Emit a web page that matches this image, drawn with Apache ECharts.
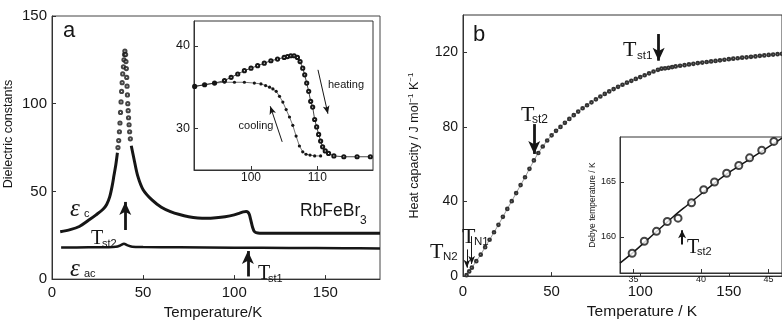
<!DOCTYPE html>
<html><head><meta charset="utf-8">
<script src="https://cdn.jsdelivr.net/npm/echarts@6/dist/echarts.min.js"></script>
<style>html,body{margin:0;padding:0;background:#fff}#c{width:782px;height:325px}</style>
</head><body><div id="c"></div>
<script>
// ---------- Panel a: dielectric constants ----------
const epsCLowT = [4.5, 10, 15, 20, 24, 28, 30, 31.7, 33, 34, 35, 35.9];
const epsCLowV = [27.0, 28.2, 30.0, 33.5, 36.5, 39.8, 42.5, 47, 53, 59, 65, 72];
const epsCPeakT = [36.2,36.6,37.0,37.3,37.6,37.9,38.2,38.5,38.8,39.2,39.5,39.8,40.0,40.4,40.6,40.8,41.0,41.2,41.4,41.6,41.8,42.0,42.3,42.6,43.0];
const epsCPeakV = [75,79,84,89,95,101,107,112,117,121,125,128,130,128,124,120,115,110,105,100,96,92,88,84,80];
const epsCHighT = [43.5, 45, 47, 50, 55, 60, 65, 70, 75, 80, 85, 90, 95, 100, 103, 105, 106.5, 107.5, 108.3, 109, 109.7, 110.4, 111, 112, 114, 120, 140, 160, 180];
const epsCHighV = [76, 68.5, 59, 51, 45, 41, 38.5, 36.8, 35.6, 34.9, 34.7, 35.0, 35.6, 36.6, 37.6, 38.3, 38.6, 38.2, 36.8, 34.0, 31.0, 28.5, 27.2, 26.5, 26.2, 26.2, 26.2, 26.2, 26.1];
const epsAcT = [5, 20, 30, 35, 37.5, 39.5, 41.5, 44, 50, 70, 100, 130, 160, 180];
const epsAcV = [18.0, 18.1, 18.2, 18.4, 19.2, 20.2, 19.2, 18.5, 18.3, 18.1, 17.9, 17.8, 17.6, 17.5];
// inset a: heating / cooling
const heatingT = [91.5, 93, 94.5, 96, 97, 98, 99, 100, 101, 102, 103, 104, 105, 105.5, 106, 106.5, 107, 107.4, 107.8, 108.1, 108.4, 108.7, 109, 109.3, 109.6, 109.9, 110.2, 110.5, 110.8, 111.2, 111.7, 112.5, 114, 116, 118];
const heatingV = [35.1, 35.3, 35.5, 35.8, 36.2, 36.6, 37.0, 37.3, 37.6, 37.9, 38.2, 38.4, 38.6, 38.7, 38.8, 38.8, 38.6, 38.1, 37.3, 36.5, 35.5, 34.5, 33.3, 32.6, 31.1, 30.2, 29.3, 28.5, 27.8, 27.3, 27.0, 26.7, 26.6, 26.6, 26.6];
const coolingT = [91.5, 93, 94.5, 96, 97.5, 99, 100.5, 101.5, 102.2, 102.8, 103.3, 103.8, 104.3, 104.8, 105.3, 105.8, 106.3, 106.8, 107.3, 107.8, 108.3, 108.9, 109.6, 110.5];
const coolingV = [35.1, 35.3, 35.5, 35.6, 35.6, 35.6, 35.5, 35.4, 35.2, 35.0, 34.8, 34.5, 33.9, 33.2, 32.3, 31.4, 30.4, 29.1, 27.9, 27.2, 26.9, 26.8, 26.7, 26.7];
// ---------- Panel b: heat capacity ----------
const heatT = [2, 3.5, 5, 7.5, 10, 12.5, 15, 17.5, 20, 22.5, 25, 27.5, 30, 32.5, 35, 37.5, 40, 42.5, 45, 47.5, 50, 52.5, 55, 57.5, 60, 62.5, 65, 67.5, 70, 72.5, 75, 77.5, 80, 82.5, 85, 87.5, 90, 92.5, 95, 97.5, 100, 102.5, 105, 107.5, 110, 112, 114, 116, 118, 120, 122.5, 125, 127.5, 130, 132.5, 135, 137.5, 140, 142.5, 145, 147.5, 150, 152.5, 155, 157.5, 160, 162.5, 165, 167.5, 170, 172.5, 175, 177.5, 180];
const heatC = [0.5, 2.5, 4.5, 8, 11.5, 15.5, 19.5, 23.5, 27.5, 31.8, 36, 40.2, 44.5, 48.8, 53, 57.5, 62, 66, 69.5, 72.7, 75.5, 77.9, 80, 82.2, 84.3, 86.3, 88.2, 90, 91.6, 93.2, 94.8, 96.3, 97.7, 99, 100.3, 101.5, 102.6, 103.7, 104.7, 105.7, 106.7, 107.7, 108.7, 109.7, 110.6, 111.2, 111.4, 111.7, 112.1, 112.4, 112.8, 113.1, 113.5, 113.8, 114.2, 114.5, 114.8, 115.1, 115.4, 115.7, 116, 116.3, 116.6, 116.8, 117.1, 117.3, 117.6, 117.8, 118.1, 118.3, 118.6, 118.8, 119, 119.2];
// inset b: Debye temperature
const debyeT = [34.9, 35.8, 36.7, 37.5, 38.3, 39.3, 40.2, 41.0, 41.9, 42.8, 43.6, 44.5, 45.4];
const debyeV = [158.5, 159.6, 160.5, 161.4, 161.7, 163.1, 164.3, 165.0, 165.8, 166.5, 167.2, 167.9, 168.7];
const fitT = [34, 35, 36, 37, 38, 39, 40, 41, 42, 43, 44, 45, 46];
const fitV = [157.6, 158.6, 159.7, 160.8, 161.9, 162.9, 163.9, 164.9, 165.8, 166.6, 167.4, 168.2, 169.0];
// tick labels
const ticksAx = [0, 50, 100, 150], ticksAy = [0, 50, 100, 150];
const ticksIAx = [100, 110], ticksIAy = [30, 40];
const ticksBx = [0, 50, 100, 150], ticksBy = [0, 40, 80, 120];
const ticksIBx = [35, 40, 45], ticksIBy = [160, 165];

const zip = (a, b) => a.map((v, i) => [v, b[i]]);
const INK = '#161616';
const SANS = '"Liberation Sans", Arial, sans-serif';
const SERIF = '"Liberation Serif", "Times New Roman", serif';

function ax(gi, min, max, ticks, fs, margin, extra) {
  return Object.assign({
    type: 'value', gridIndex: gi, min, max,
    axisLine: { show: true, onZero: false, lineStyle: { color: '#333', width: 1 } },
    axisTick: { show: true, inside: true, length: 4, customValues: ticks, lineStyle: { color: '#333' } },
    axisLabel: { customValues: ticks, fontSize: fs, fontFamily: SANS, color: INK, margin },
    splitLine: { show: false }
  }, extra || {});
}
function arrow(p1, p2, w, size) {
  return [
    { coord: p1, symbol: 'none', lineStyle: { width: w, color: INK, type: 'solid' } },
    { coord: p2, symbol: 'arrow', symbolSize: size }
  ];
}
function ml(items) {
  return { silent: true, animation: false, label: { show: false }, emphasis: { disabled: true },
           lineStyle: { color: INK, type: 'solid' }, symbol: ['none', 'arrow'], data: items };
}
function txt(x, y, text, font, align) {
  return { type: 'text', x, y, z: 100, silent: true,
           style: { text, font, fill: INK, textAlign: align || 'left', textVerticalAlign: 'middle' } };
}

const option = {
  animation: false,
  backgroundColor: '#fff',
  grid: [
    { left: 52, top: 16, width: 328, height: 273, show: true, borderColor: '#444', borderWidth: 1 },
    { left: 194, top: 21, width: 179, height: 149, show: true, borderColor: '#333', borderWidth: 1, backgroundColor: '#fff', z: 3 },
    { left: 463, top: 15, right: -8, height: 275, show: true, borderColor: '#333', borderWidth: 1 },
    { left: 620, top: 137, right: -1, height: 136, show: true, borderColor: '#333', borderWidth: 1, backgroundColor: '#fff', z: 3 }
  ],
  xAxis: [
    ax(0, 0, 180, ticksAx, 15, 6, { name: 'Temperature/K', nameLocation: 'middle', nameGap: 23,
       nameTextStyle: { fontSize: 15, fontFamily: SANS, color: INK, padding: [0, 6, 0, 0] } }),
    ax(1, 91.4, 118.4, ticksIAx, 12, 2, { z: 4 }),
    ax(2, 0, 180, ticksBx, 15, 8, { name: 'Temperature / K', nameLocation: 'middle', nameGap: 22,
       nameTextStyle: { fontSize: 15.5, fontFamily: SANS, color: INK, padding: [0, 0, 0, 39] } }),
    ax(3, 34, 46, ticksIBx, 9, 2, { z: 4 })
  ],
  yAxis: [
    ax(0, 0, 150, ticksAy, 15, 5, { name: 'Dielectric constants', nameLocation: 'middle', nameGap: 37,
       nameTextStyle: { fontSize: 12.5, fontFamily: SANS, color: INK, padding: [0, 0, 0, 27] } }),
    ax(1, 25, 43, ticksIAy, 12.5, 4, { z: 4 }),
    ax(2, 0, 140, ticksBy, 14, 5, { name: '{a|Heat capacity / J mol}{s|−1}{a| K}{s|−1}', nameLocation: 'middle', nameGap: 41,
       nameTextStyle: { fontSize: 12.5, fontFamily: SANS, color: INK,
         rich: { a: { fontSize: 12.5, fontFamily: SANS, color: INK, lineHeight: 15 },
                 s: { fontSize: 8, fontFamily: SANS, color: INK, lineHeight: 8, verticalAlign: 'top' } } } }),
    ax(3, 156.7, 169.1, ticksIBy, 9, 4, { z: 4, name: 'Debye temperature / K', nameLocation: 'middle', nameGap: 22,
       nameTextStyle: { fontSize: 8.5, fontFamily: SANS, color: INK } })
  ],
  series: [
    { name: 'εc low', type: 'line', xAxisIndex: 0, yAxisIndex: 0, data: zip(epsCLowT, epsCLowV), showSymbol: false,
      smooth: 0.3, lineStyle: { width: 3, color: INK } },
    { name: 'εc peak', type: 'scatter', xAxisIndex: 0, yAxisIndex: 0, data: zip(epsCPeakT, epsCPeakV), symbol: 'emptyCircle',
      symbolSize: 3.2, itemStyle: { color: INK, borderColor: INK, borderWidth: 0.9 } },
    { name: 'εc high', type: 'line', xAxisIndex: 0, yAxisIndex: 0, data: zip(epsCHighT, epsCHighV), showSymbol: false,
      smooth: 0.3, lineStyle: { width: 3, color: INK } },
    { name: 'εac', type: 'line', xAxisIndex: 0, yAxisIndex: 0, data: zip(epsAcT, epsAcV), showSymbol: false,
      smooth: 0.3, lineStyle: { width: 2.5, color: INK },
      markLine: ml([arrow([40.2, 28], [40.2, 44], 2.8, [9, 13]), arrow([107.5, 1.5], [107.5, 16], 2.8, [9, 13])]) },
    { name: 'heating', type: 'line', xAxisIndex: 1, yAxisIndex: 1, z: 5, data: zip(heatingT, heatingV), symbol: 'emptyCircle',
      symbolSize: 3.2, lineStyle: { width: 0.8, color: INK }, itemStyle: { color: INK, borderColor: INK, borderWidth: 0.8 },
      markLine: ml([arrow([110.1, 37.1], [111.6, 31.8], 1, [5, 8]), arrow([104.7, 28.4], [102.9, 32.7], 1, [5, 8])]) },
    { name: 'cooling', type: 'line', xAxisIndex: 1, yAxisIndex: 1, z: 5, data: zip(coolingT, coolingV), symbol: 'circle',
      symbolSize: 3.2, lineStyle: { width: 0.6, color: INK }, itemStyle: { color: INK } },
    { name: 'heat capacity', type: 'line', xAxisIndex: 2, yAxisIndex: 2, data: zip(heatT, heatC), symbol: 'emptyCircle',
      symbolSize: 2.7, lineStyle: { width: 0.5, color: '#333' }, itemStyle: { color: '#333', borderColor: '#333', borderWidth: 0.6 },
      markLine: ml([arrow([110.4, 129.8], [110.4, 115.5], 2.8, [9, 13]), arrow([40.2, 81.5], [40.2, 65.5], 2.8, [9, 13]),
                    arrow([4.9, 21.4], [4.9, 6.5], 1, [5, 8]), arrow([2.2, 14.3], [2.2, 4.5], 1, [5, 8])]) },
    { name: 'debye fit', type: 'line', xAxisIndex: 3, yAxisIndex: 3, z: 5, data: zip(fitT, fitV), showSymbol: false,
      smooth: 0.3, lineStyle: { width: 1.5, color: INK } },
    { name: 'debye', type: 'scatter', xAxisIndex: 3, yAxisIndex: 3, z: 6, data: zip(debyeT, debyeV), symbol: 'emptyCircle',
      symbolSize: 7, itemStyle: { color: INK, borderColor: INK, borderWidth: 1 },
      markLine: ml([arrow([38.6, 159.3], [38.6, 160.6], 2, [6, 8])]) }
  ],
  graphic: [
    txt(63, 31, 'a', '22px ' + SANS),
    txt(473, 35, 'b', '22px ' + SANS),
    txt(300, 211, 'RbFeBr', '17.5px ' + SANS),
    txt(360, 221, '3', '12px ' + SANS),
    txt(70, 209, 'ε', 'italic 25px ' + SERIF),
    txt(84, 214, 'c', '11px ' + SANS),
    txt(70, 269, 'ε', 'italic 25px ' + SERIF),
    txt(84, 274, 'ac', '11px ' + SANS),
    txt(91, 238.5, 'T', '20px ' + SERIF),
    txt(102, 244, 'st2', '11px ' + SANS),
    txt(258, 274, 'T', '20px ' + SERIF),
    txt(268, 279, 'st1', '11px ' + SANS),
    txt(346, 85, 'heating', '11px ' + SANS, 'center'),
    txt(256, 126, 'cooling', '11px ' + SANS, 'center'),
    txt(623, 50, 'T', '22px ' + SERIF),
    txt(637, 56, 'st1', '11.5px ' + SANS),
    txt(521, 115.5, 'T', '22px ' + SERIF),
    txt(532, 120, 'st2', '12px ' + SANS),
    txt(462, 237.5, 'T', '22px ' + SERIF),
    txt(474, 241.5, 'N1', '11.5px ' + SANS),
    txt(430, 252.5, 'T', '22px ' + SERIF),
    txt(443, 256.5, 'N2', '11.5px ' + SANS),
    txt(687, 247.5, 'T', '20px ' + SERIF),
    txt(697, 252, 'st2', '11px ' + SANS)
  ]
};
const chart = echarts.init(document.getElementById('c'), null, { renderer: 'canvas' });
chart.setOption(option);
</script>
</body></html>
